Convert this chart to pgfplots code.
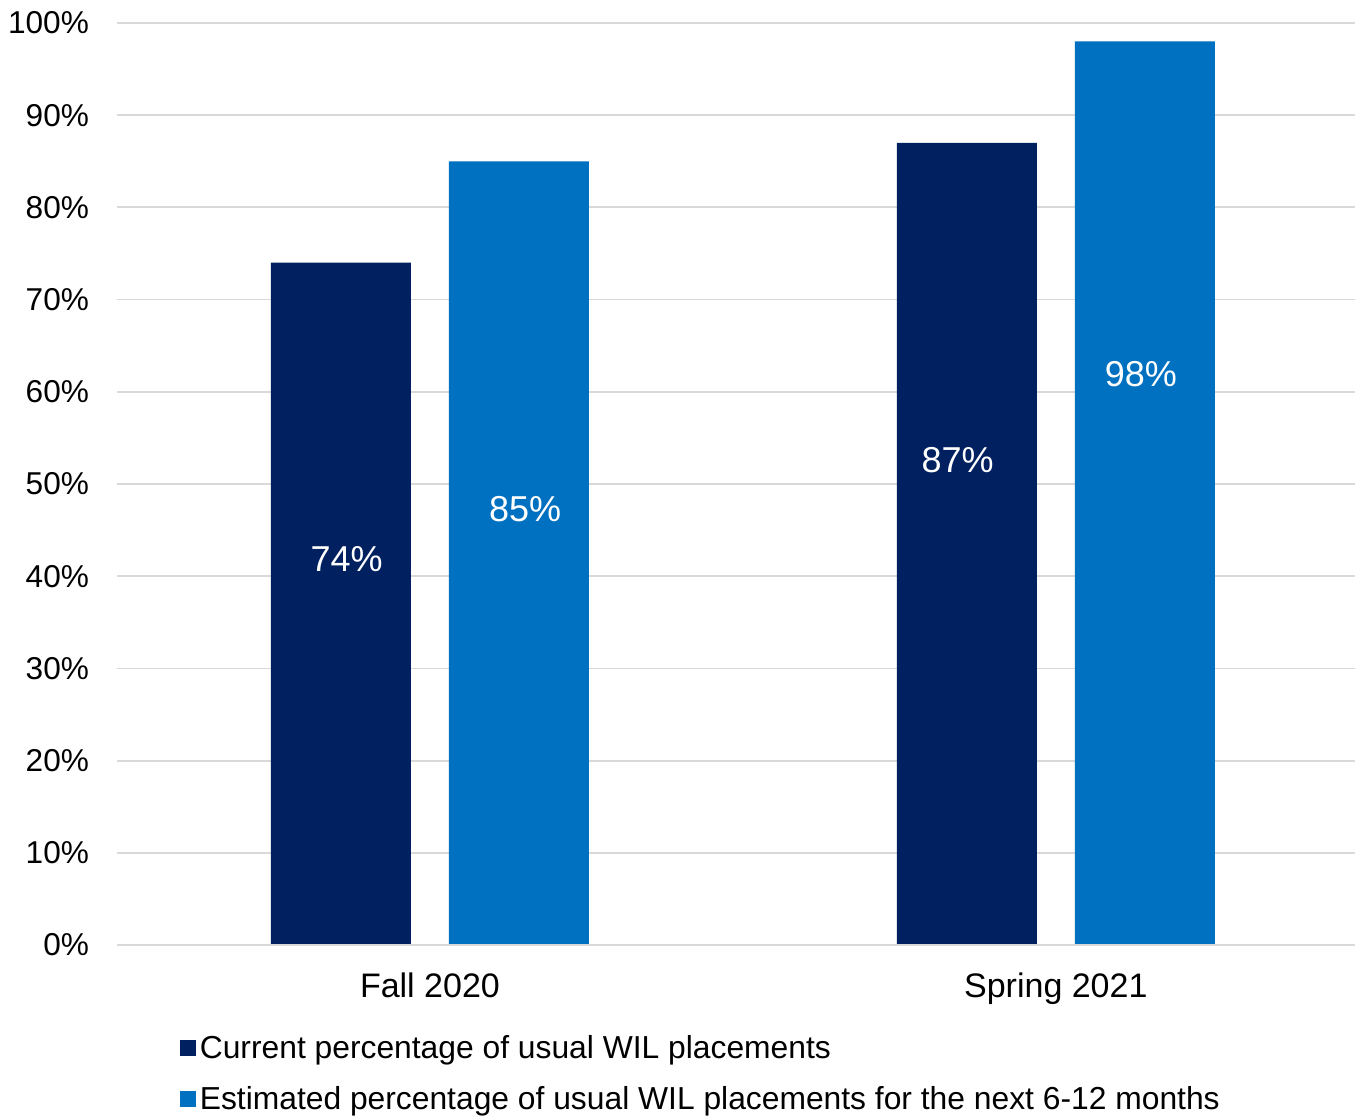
\documentclass[border=0pt]{standalone}
\usepackage{pgfplots}
\pgfplotsset{compat=1.18}
\usepackage{fontspec}
\setmainfont{Liberation Sans}
\definecolor{navy}{HTML}{002060}
\definecolor{midblue}{HTML}{0070C0}
\definecolor{gridgray}{HTML}{D9D9D9}
\begin{document}
\begin{tikzpicture}
\useasboundingbox (-58.5pt,-85pt) rectangle (619pt,472.5pt);
\begin{axis}[
    at={(0,0)}, anchor=south west,
    scale only axis,
    width=619pt, height=461pt,
    ybar, bar width=70pt,
    xmin=-0.5, xmax=1.478,
    ymin=0, ymax=100,
    xtick={0,1}, xticklabels={Fall 2020, Spring 2021},
    ytick={0,10,...,100},
    yticklabel={\pgfmathprintnumber{\tick}\%},
    /pgf/number format/assume math mode=true,
    tick style={draw=none},
    axis line style={draw=none},
    ymajorgrids, grid style={gridgray, line width=0.9pt},
    yticklabel style={font=\fontsize{15.8}{18}\selectfont, xshift=-10.5pt},
    xticklabel style={font=\fontsize{17}{19}\selectfont, yshift=-6pt},
    legend style={at={(0.048,-0.093)}, anchor=north west, draw=none,
        xshift=1.5pt,
        font=\fontsize{15.9}{18}\selectfont, row sep=8.5pt,
        cells={anchor=west}, inner sep=0pt},
    legend cell align=left,
    legend image code/.code={\fill[#1] (-1.5pt,-4pt) rectangle (6.5pt,4pt);},
]
\addplot[fill=navy, draw=none, bar shift=-44.5pt] coordinates {(0,74) (1,87)};
\addlegendentry{Current percentage of usual WIL placements}
\addplot[fill=midblue, draw=none, bar shift=44.5pt] coordinates {(0,85) (1,98)};
\addlegendentry{Estimated percentage of usual WIL placements for the next 6-12 months}
\draw[gridgray, line width=0.9pt] (axis cs:-0.5,0) -- (axis cs:1.478,0);
\node[white, font=\fontsize{18}{20}\selectfont] at (axis cs:-0.133,41.8) {74\%};
\node[white, font=\fontsize{18}{20}\selectfont] at (axis cs:0.152,47.3) {85\%};
\node[white, font=\fontsize{18}{20}\selectfont] at (axis cs:0.843,52.6) {87\%};
\node[white, font=\fontsize{18}{20}\selectfont] at (axis cs:1.136,61.9) {98\%};
\end{axis}
\end{tikzpicture}
\end{document}
